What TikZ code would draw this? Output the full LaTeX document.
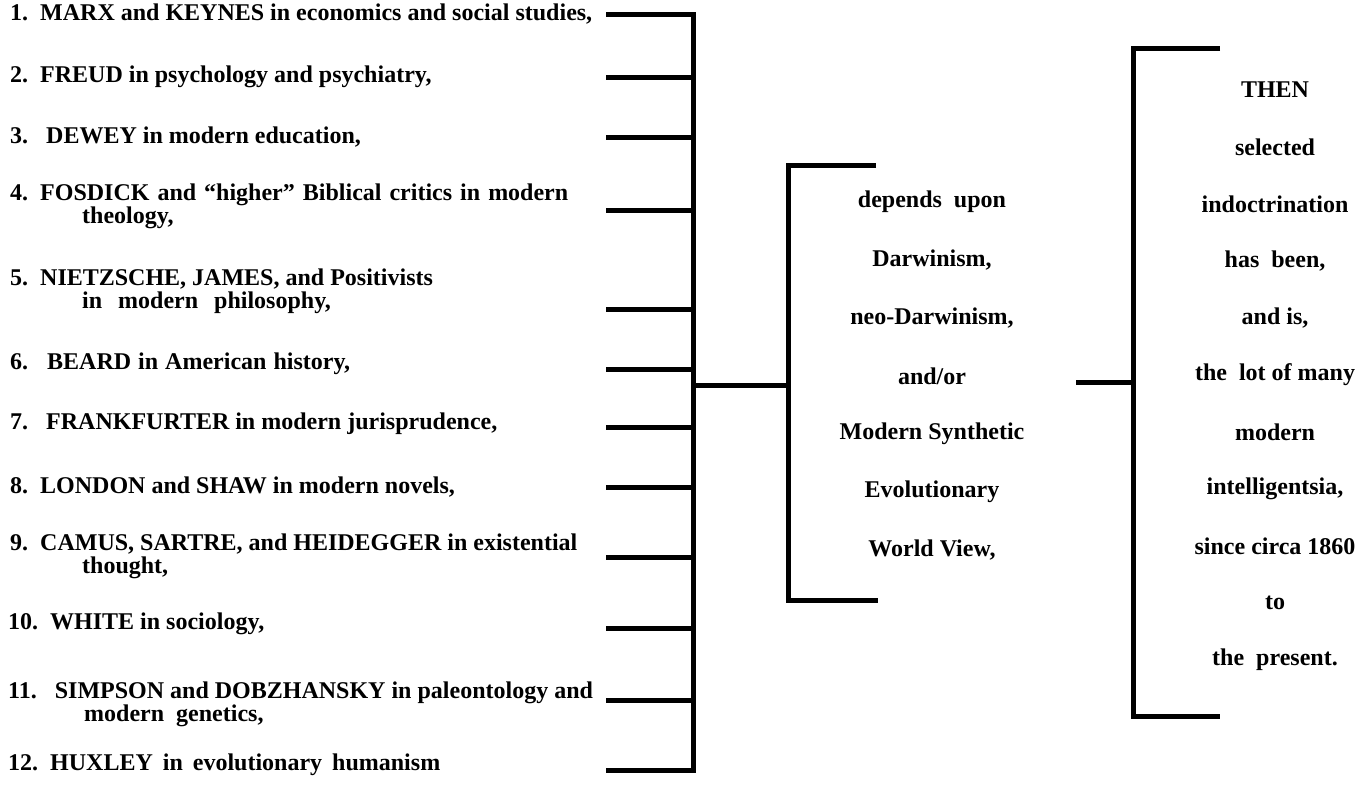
\documentclass[tikz,border=0pt]{standalone}
\usepackage{fontspec}
\setmainfont{Liberation Serif}
\usetikzlibrary{positioning}
\newcommand{\txt}{\fontsize{24pt}{23pt}\selectfont\bfseries}
\tikzset{
  bar/.style={line width=5pt,line join=miter},
  item/.style={anchor=west,inner sep=0pt,align=left,font=\txt},
  wide/.style={execute at begin node={\spaceskip=#1\relax}},
  ctr/.style={inner sep=0pt,font=\txt},
}

\begin{document}
\begin{tikzpicture}[x=1pt,y=-1pt]
  \useasboundingbox (0,0) rectangle (1370,785);
  % the twelve fields
  \node[item] (a1) at (10,14) {1.\enspace MARX and KEYNES in economics and social studies,};
  \node[item] (a2) at (10,77) {2.\enspace FREUD in psychology and psychiatry,};
  \node[item] (a3) at (10,137) {3.\enspace\ DEWEY in modern education,};
  \node[item,wide=8pt] (a4) at (10,206) {4.\enspace FOSDICK and “higher” Biblical critics in modern\\\hspace*{72pt}theology,};
  \node[item] (a5) at (10,291) {5.\enspace NIETZSCHE, JAMES, and Positivists\\\hspace*{72pt}in\hspace{16pt}modern\hspace{16pt}philosophy,};
  \node[item,wide=7pt] (a6) at (10,364) {6.\enspace\ BEARD in American history,};
  \node[item] (a7) at (10,424) {7.\enspace\ FRANKFURTER in modern jurisprudence,};
  \node[item] (a8) at (10,487) {8.\enspace LONDON and SHAW in modern novels,};
  \node[item] (a9) at (10,556) {9.\enspace CAMUS, SARTRE, and HEIDEGGER in existential\\\hspace*{72pt}thought,};
  \node[item] (a10) at (8,624) {10.\enspace WHITE in sociology,};
  \node[item] (a11) at (8,704) {11.\enspace\ SIMPSON and DOBZHANSKY in paleontology and\\\hspace*{76pt}modern\ \ genetics,};
  \node[item,wide=10pt] (a12) at (8,765) {12.\enspace HUXLEY in evolutionary humanism};
  % left bracket
  \coordinate (spine) at (693,14);
  \coordinate (spineEnd) at (693,770);
  \draw[bar,line cap=rect] (spine) -- (spineEnd);
  \foreach \i/\y in {1/14,2/77,3/137,4/210,5/309,6/369,7/427,8/487,9/557,10/628,11/700,12/770}{
    \coordinate (s\i) at (606,\y);
    \draw[bar] (s\i) -- (s\i -| spine);
  }
  % middle bracket
  \coordinate (jL) at (693,385);
  \coordinate (mS) at (788,385);
  \coordinate (mT) at (876,165);
  \coordinate (mB) at (878,600);
  \draw[bar] (jL) -- (mS);
  \draw[bar] (mT) -- (mT -| mS) -- (mB -| mS) -- (mB);
  \foreach \t [count=\i] in {depends\ \ upon,{Darwinism,},{neo-Darwinism,},and/or,Modern Synthetic,Evolutionary,{World View,}}
    \node[ctr] (m\i) at (932,202+58*\i-58) {\t};
  % right bracket
  \coordinate (rL) at (1076,382);
  \coordinate (rS) at (1133,382);
  \coordinate (rT) at (1220,48);
  \coordinate (rB) at (1220,716);
  \draw[bar] (rL) -- (rS);
  \draw[bar] (rT) -- (rT -| rS) -- (rB -| rS) -- (rB);
  \foreach \t [count=\i] in {THEN,selected,indoctrination,{has\ \ been,},{and is,},the\ \ lot of many,modern,{intelligentsia,},since circa 1860,to,the\ \ present.}
    \node[ctr] (r\i) at (1275,90+57*\i-57) {\t};
\end{tikzpicture}
\end{document}
